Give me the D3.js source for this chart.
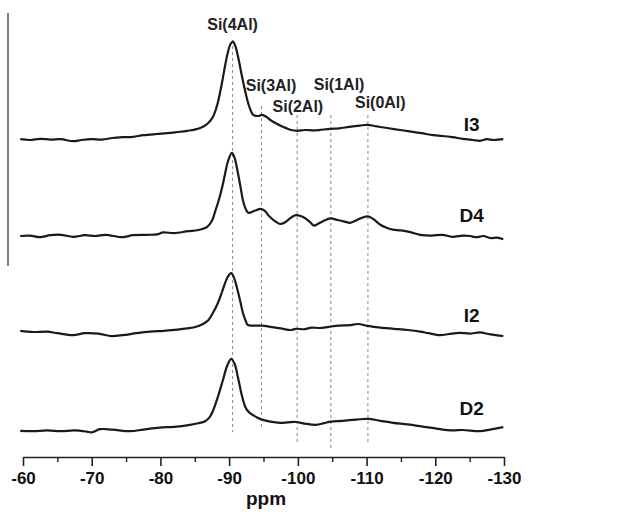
<!DOCTYPE html>
<html>
<head>
<meta charset="utf-8">
<script src="https://cdn.jsdelivr.net/npm/d3@7"></script>
<style>
  body { margin: 0; background: #fff; }
  svg { display: block; font-family: "Liberation Sans", Arial, sans-serif; }
</style>
</head>
<body>
<script>
// spectra as [ppm, intensity] pairs, intensity relative to each trace's own baseline
const i3 = [[-59.6,0.2],[-61,0.0],[-62.5,0.3],[-64,0.1],[-65.5,0.2],[-67.3,-0.3],[-68.5,0.0],[-70,0.2],[-71.5,0.1],[-73,0.5],[-74.5,0.7],[-76,0.8],[-77.5,1.2],[-79.5,1.5],[-81,1.7],[-82.5,2.0],[-83.9,2.3],[-85,2.6],[-86.2,3.3],[-87,4.3],[-87.65,5.8],[-88.3,9],[-88.96,14.3],[-89.4,18.5],[-89.8,21.8],[-90.2,24],[-90.56,24.6],[-90.9,23.5],[-91.3,20.8],[-91.8,16.5],[-92.3,12.5],[-92.9,8.5],[-93.5,6.3],[-94.2,6.0],[-94.8,6.3],[-95.4,5.8],[-96,5.0],[-97,4.0],[-97.8,3.3],[-99,2.5],[-99.9,2.3],[-101,2.5],[-102.5,2.4],[-104.7,2.8],[-106,2.9],[-107.5,3.3],[-109,3.6],[-110.1,3.8],[-111.5,3.4],[-113,3.0],[-114.9,2.5],[-116.5,2.1],[-118,1.7],[-119.7,1.2],[-121,1.0],[-122.5,0.7],[-124,0.3],[-125.5,0],[-126.5,-0.2],[-127.5,0.2],[-128.5,0.0],[-129.9,0.2]];
const d4 = [[-59.6,0],[-61,0.1],[-62.5,-0.3],[-64,0.2],[-65.5,0.3],[-67.3,-0.2],[-69,0.2],[-70.5,0.0],[-72,0.3],[-74.5,-0.3],[-76,0.2],[-78,0.3],[-79.5,0.4],[-80.4,0.9],[-82,0.7],[-84,1.2],[-85.5,1.5],[-86.8,2.3],[-87.5,3.8],[-87.9,5.8],[-88.5,9],[-89.0,12.3],[-89.4,15.5],[-89.8,18.5],[-90.4,20.8],[-90.8,19.5],[-91.1,17.3],[-91.6,12.8],[-92.0,9],[-92.4,6.8],[-92.8,5.8],[-93.7,6.3],[-94.6,6.8],[-95.2,6.3],[-95.8,5.0],[-96.6,3.8],[-97.4,3.0],[-98.2,3.5],[-99,4.6],[-99.7,5.2],[-100.4,5.0],[-101.0,4.5],[-101.7,3.6],[-102.35,2.6],[-103.2,3.3],[-104,4.0],[-104.8,4.4],[-105.8,4.0],[-106.8,3.6],[-107.6,3.3],[-108.6,4.0],[-109.4,4.6],[-110.2,4.9],[-111,4.2],[-112.0,2.8],[-113,2.0],[-113.85,1.6],[-115,1.4],[-116.5,0.9],[-117.8,0.3],[-119.5,0.1],[-121,0.3],[-122.5,-0.2],[-124,0.1],[-125.05,0],[-126,-0.3],[-127,0],[-128,-0.5],[-129,-0.4],[-129.9,-0.8]];
const i2 = [[-59.6,0.3],[-61.5,0.0],[-63.5,0.1],[-65,-0.3],[-67.3,-0.8],[-69,-0.3],[-71,-0.4],[-72.7,-1],[-74.5,-0.8],[-76.5,-0.3],[-78.5,0.1],[-80.5,0.3],[-82.5,0.6],[-83.9,0.9],[-85.2,1.3],[-86.2,2],[-87,3],[-87.65,4.8],[-88.3,7],[-88.96,10],[-89.4,12.2],[-89.8,13.8],[-90.3,14.7],[-90.7,13.6],[-91.1,11.3],[-91.6,7.8],[-92.0,4.8],[-92.4,2.8],[-92.7,1.8],[-93.5,1.6],[-94.8,1.6],[-96,1.3],[-97.5,0.9],[-99,0.5],[-99.7,0.8],[-101,0.7],[-102,1.1],[-103.2,1.0],[-104.5,1.3],[-106,1.6],[-107.5,1.7],[-108.75,2.0],[-110,1.6],[-111,1.3],[-112,1.1],[-114,0.8],[-116,0.5],[-117.8,0.1],[-119,-0.3],[-120.7,-0.8],[-122,-0.5],[-123.5,-0.2],[-125.05,-0.4],[-126.5,-0.1],[-128,-0.6],[-129.9,-1]];
const d2 = [[-59.6,-0.2],[-61.5,-0.3],[-63.5,-0.1],[-65.5,-0.3],[-67.5,-0.1],[-69.3,-0.4],[-70,-0.6],[-71.2,0.2],[-73,0.1],[-75.6,-0.3],[-77.5,0.1],[-79.9,0.6],[-82,0.8],[-84.3,1.3],[-85.5,1.7],[-86.5,2.2],[-87.2,3.3],[-87.65,4.8],[-88.4,8.5],[-89.1,12.5],[-89.7,16],[-90.3,17.8],[-90.8,16.5],[-91.3,13],[-91.8,9],[-92.3,6],[-92.6,5],[-93.0,4.3],[-94,3.2],[-94.8,2.6],[-96,2.1],[-97.4,1.8],[-98.5,1.9],[-99.7,2.0],[-101,1.6],[-102.6,1.3],[-103.8,1.7],[-104.8,2.1],[-106.5,2.3],[-108.5,2.6],[-110.2,2.8],[-112,2.3],[-113.85,1.8],[-116,1.4],[-118,0.9],[-120.7,0.2],[-122.5,-0.1],[-124,0],[-126.5,-0.3],[-128,0.1],[-129.9,0.7]];

const traceNames = ["I3", "D4", "I2", "D2"];
const traceData = [i3, d4, i2, d2];
const traceOffsets = [75, 51, 27, 2.5];
const traceLabelY = [77.25, 54.5, 29.5, 6.25];

const siteNames = ["Si(4Al)", "Si(3Al)", "Si(2Al)", "Si(1Al)", "Si(0Al)"];
const sitePpm = [-90.5, -94.7, -99.9, -104.8, -110.2];
const siteTop = [100, 83.5, 81.25, 81.25, 81.25];
const siteBottom = [2, 3, -0.5, -2, -0.5];
const siteLabelPpm = [-90.5, -96.1, -100.0, -106.0, -112.0];
const siteLabelY = [102.5, 87.25, 82, 87.5, 83];

const majorTicks = [-60, -70, -80, -90, -100, -110, -120, -130];
const minorTicks = [-65, -75, -85, -95, -105, -115, -125];

const W = 640, H = 517;
const svg = d3.select("body").append("svg").attr("width", W).attr("height", H);

const x = d3.scaleLinear().domain([-60, -130]).range([23, 504]);
const y = d3.scaleLinear().domain([0, 100]).range([440, 40]);

// left frame line
svg.append("line")
  .attr("x1", 8).attr("x2", 8).attr("y1", 13).attr("y2", 266)
  .attr("stroke", "#555").attr("stroke-width", 1.5);

// dashed reference lines
svg.selectAll("line.site")
  .data(sitePpm)
  .enter().append("line")
  .attr("class", "site")
  .attr("x1", d => x(d)).attr("x2", d => x(d))
  .attr("y1", (d, i) => y(siteTop[i]))
  .attr("y2", (d, i) => y(siteBottom[i]))
  .attr("stroke", "#8a8a8a").attr("stroke-width", 1)
  .attr("stroke-dasharray", "3,3");

svg.selectAll("text.site")
  .data(siteNames)
  .enter().append("text")
  .attr("class", "site")
  .attr("x", (d, i) => x(siteLabelPpm[i]))
  .attr("y", (d, i) => y(siteLabelY[i]))
  .attr("text-anchor", "middle")
  .attr("font-size", 16)
  .attr("font-weight", "bold")
  .attr("fill", "#222")
  .text(d => d);

const line = d3.line().curve(d3.curveCatmullRom);

svg.selectAll("path.trace")
  .data(traceData)
  .enter().append("path")
  .attr("class", "trace")
  .attr("d", (d, i) => line.x(p => x(p[0])).y(p => y(traceOffsets[i] + p[1]))(d))
  .attr("fill", "none")
  .attr("stroke", "#1a1a1a")
  .attr("stroke-width", 2.2)
  .attr("stroke-linejoin", "round");

svg.selectAll("text.trace")
  .data(traceNames)
  .enter().append("text")
  .attr("class", "trace")
  .attr("x", x(-125.3))
  .attr("y", (d, i) => y(traceLabelY[i]))
  .attr("text-anchor", "middle")
  .attr("font-size", 19)
  .attr("font-weight", "bold")
  .attr("fill", "#111")
  .text(d => d);

// x axis
const axisY = 457;
const gx = svg.append("g")
  .attr("transform", `translate(0,${axisY})`)
  .call(d3.axisBottom(x).tickValues(majorTicks).tickSize(9).tickSizeOuter(0).tickPadding(6).tickFormat(d => String(d)));
gx.select(".domain").attr("stroke", "#222").attr("stroke-width", 1.6);
gx.selectAll(".tick line").attr("stroke", "#222").attr("stroke-width", 1.6);
gx.selectAll(".tick text")
  .attr("font-size", 17).attr("font-weight", "bold").attr("fill", "#111")
  .attr("font-family", "Liberation Sans, Arial, sans-serif");

svg.append("g")
  .attr("transform", `translate(0,${axisY})`)
  .call(d3.axisBottom(x).tickValues(minorTicks).tickSize(5).tickSizeOuter(0).tickFormat(""))
  .call(g => g.select(".domain").remove())
  .selectAll(".tick line").attr("stroke", "#222").attr("stroke-width", 1.4);

svg.append("text")
  .attr("x", 266).attr("y", 505)
  .attr("text-anchor", "middle")
  .attr("font-size", 19).attr("font-weight", "bold").attr("fill", "#111")
  .text("ppm");
</script>
</body>
</html>
